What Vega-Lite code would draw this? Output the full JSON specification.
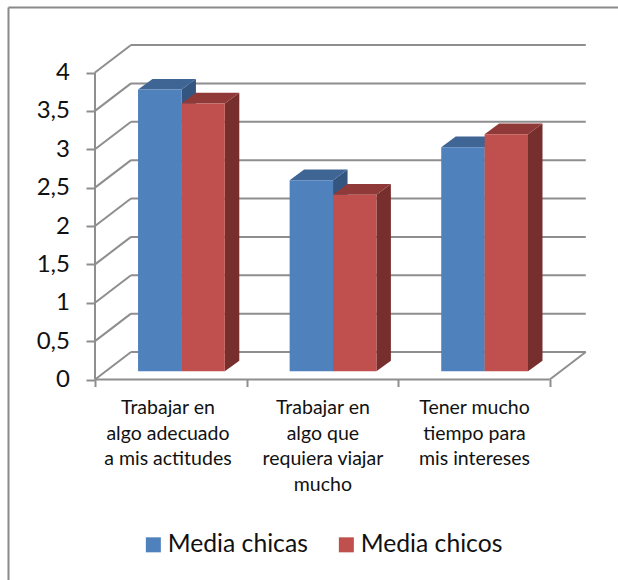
{
  "$schema": "https://vega.github.io/schema/vega-lite/v6.json",
  "width": 618,
  "height": 580,
  "padding": 0,
  "autosize": "none",
  "background": "white",
  "config": {
    "view": {"stroke": null},
    "font": "Lato",
    "axis": {"grid": false, "title": null, "domain": false, "labelColor": "#111111", "tickColor": "#8e8e8e", "tickWidth": 2}
  },
  "datasets": {
    "bars": [
      {"categoria": "Trabajar en algo adecuado a mis actitudes", "serie": "Media chicas", "media": 3.67},
      {"categoria": "Trabajar en algo adecuado a mis actitudes", "serie": "Media chicos", "media": 3.49},
      {"categoria": "Trabajar en algo que requiera viajar mucho", "serie": "Media chicas", "media": 2.49},
      {"categoria": "Trabajar en algo que requiera viajar mucho", "serie": "Media chicos", "media": 2.30},
      {"categoria": "Tener mucho tiempo para mis intereses", "serie": "Media chicas", "media": 2.92},
      {"categoria": "Tener mucho tiempo para mis intereses", "serie": "Media chicos", "media": 3.09}
    ],
    "ticks": [
      {"nivel": 0}, {"nivel": 0.5}, {"nivel": 1}, {"nivel": 1.5}, {"nivel": 2},
      {"nivel": 2.5}, {"nivel": 3}, {"nivel": 3.5}, {"nivel": 4}
    ]
  },
  "layer": [
    {
      "data": {"values": [{}]},
      "mark": {"type": "rule", "color": "#8a8a8a", "strokeWidth": 2},
      "encoding": {
        "x": {"datum": -0.5706, "type": "quantitative", "scale": {"domain": [-0.6266, 3.45], "nice": false, "zero": false},
          "axis": {
            "orient": "bottom", "offset": -200.5, "values": [0, 0.478, 1, 1.5, 2, 2.5, 3], "tickSize": 7, "labelFontSize": 19.5, "labelPadding": 12, "labelLineHeight": 25.7, "labelBaseline": "top", "labelOverlap": false, "labelFlush": false, "labelBound": false,
            "tickOpacity": {"condition": {"test": "datum.value % 1 != 0", "value": 0}, "value": 1},
            "labelExpr": "datum.value == 0.478 ? ['Trabajar en', 'algo adecuado', 'a mis actitudes'] : datum.value == 1.5 ? ['Trabajar en', 'algo que', 'requiera viajar', 'mucho'] : datum.value == 2.5 ? ['Tener mucho', 'tiempo para', 'mis intereses'] : ''"
          }
        },
        "y": {"datum": 4.847, "type": "quantitative", "scale": {"domain": [-2.612, 4.9446], "nice": false, "zero": false},
          "axis": {
            "orient": "left", "offset": -95, "values": [0, 0.5, 1, 1.5, 2, 2.5, 3, 3.5, 4], "tickSize": 9, "labelFontSize": 24, "labelPadding": 16.5, "labelOverlap": false, "labelFlush": false, "labelBound": false,
            "labelExpr": "replace(toString(datum.value), '.', ',')"
          }
        },
        "y2": {"datum": -2.612}
      }
    },
    {
      "data": {"values": [{}]},
      "mark": {"type": "rule", "color": "#8a8a8a", "strokeWidth": 2},
      "encoding": {
        "x": {"datum": -0.5706, "type": "quantitative", "scale": {"domain": [-0.6266, 3.45], "nice": false, "zero": false}},
        "x2": {"datum": 3.45},
        "y": {"datum": 4.847, "type": "quantitative", "scale": {"domain": [-2.612, 4.9446], "nice": false, "zero": false}}
      }
    },
    {
      "data": {"name": "ticks"},
      "transform": [{"calculate": "datum.nivel + 0.358", "as": "yb"}],
      "mark": {"type": "rule", "color": "#8e8e8e", "strokeWidth": 2},
      "encoding": {
        "x": {"datum": 0.2375, "type": "quantitative", "scale": {"domain": [-0.6266, 3.45], "nice": false, "zero": false}},
        "x2": {"datum": 3.2375},
        "y": {"field": "yb", "type": "quantitative", "scale": {"domain": [-2.612, 4.9446], "nice": false, "zero": false}}
      }
    },
    {
      "data": {"name": "ticks"},
      "transform": [{"calculate": "datum.nivel + 0.358", "as": "yb"}],
      "mark": {"type": "rule", "color": "#8e8e8e", "strokeWidth": 2},
      "encoding": {
        "x": {"datum": 0, "type": "quantitative", "scale": {"domain": [-0.6266, 3.45], "nice": false, "zero": false}},
        "x2": {"datum": 0.2375},
        "y": {"field": "nivel", "type": "quantitative", "scale": {"domain": [-2.612, 4.9446], "nice": false, "zero": false}},
        "y2": {"field": "yb"}
      }
    },
    {
      "data": {"values": [{}]},
      "mark": {"type": "rule", "color": "#8e8e8e", "strokeWidth": 2},
      "encoding": {
        "x": {"datum": 0, "type": "quantitative", "scale": {"domain": [-0.6266, 3.45], "nice": false, "zero": false}},
        "y": {"datum": 0, "type": "quantitative", "scale": {"domain": [-2.612, 4.9446], "nice": false, "zero": false}},
        "y2": {"datum": 4}
      }
    },
    {
      "data": {"values": [{}]},
      "mark": {"type": "rule", "color": "#8e8e8e", "strokeWidth": 2},
      "encoding": {
        "x": {"datum": 0, "type": "quantitative", "scale": {"domain": [-0.6266, 3.45], "nice": false, "zero": false}},
        "x2": {"datum": 3},
        "y": {"datum": 0, "type": "quantitative", "scale": {"domain": [-2.612, 4.9446], "nice": false, "zero": false}}
      }
    },
    {
      "data": {"values": [{}]},
      "mark": {"type": "rule", "color": "#8e8e8e", "strokeWidth": 2},
      "encoding": {
        "x": {"datum": 3, "type": "quantitative", "scale": {"domain": [-0.6266, 3.45], "nice": false, "zero": false}},
        "x2": {"datum": 3.2375},
        "y": {"datum": 0, "type": "quantitative", "scale": {"domain": [-2.612, 4.9446], "nice": false, "zero": false}},
        "y2": {"datum": 0.358}
      }
    },
    {
      "data": {"name": "bars"},
      "transform": [
        {"calculate": "indexof(['Trabajar en algo adecuado a mis actitudes', 'Trabajar en algo que requiera viajar mucho', 'Tener mucho tiempo para mis intereses'], datum.categoria) + (datum.serie == 'Media chicas' ? 0.284 : 0.57)", "as": "x0"},
        {"calculate": "[0, 1]", "as": "t"},
        {"flatten": ["t"]},
        {"calculate": "datum.x0 + 0.2863 + datum.t * 0.0956", "as": "xs"},
        {"calculate": "0.107 + datum.t * 0.139", "as": "ybase"},
        {"calculate": "datum.ybase + datum.media", "as": "ytop"},
        {"calculate": "datum.categoria + datum.serie", "as": "barra"}
      ],
      "mark": {"type": "area", "line": false, "opacity": 1},
      "encoding": {
        "detail": {"field": "barra"},
        "x": {"field": "xs", "type": "quantitative", "scale": {"domain": [-0.6266, 3.45], "nice": false, "zero": false}},
        "y": {"field": "ytop", "type": "quantitative", "stack": null, "scale": {"domain": [-2.612, 4.9446], "nice": false, "zero": false}},
        "y2": {"field": "ybase"},
        "fill": {"condition": {"test": "datum.serie == 'Media chicas'", "value": "#34557f"}, "value": "#772f2d"}
      }
    },
    {
      "data": {"name": "bars"},
      "transform": [
        {"calculate": "indexof(['Trabajar en algo adecuado a mis actitudes', 'Trabajar en algo que requiera viajar mucho', 'Tener mucho tiempo para mis intereses'], datum.categoria) + (datum.serie == 'Media chicas' ? 0.284 : 0.57)", "as": "x0"},
        {"calculate": "[0, 1]", "as": "t"},
        {"flatten": ["t"]},
        {"calculate": "datum.x0 + datum.t * 0.0956", "as": "xa"},
        {"calculate": "datum.xa + 0.2863", "as": "xb"},
        {"calculate": "datum.media + 0.107 + datum.t * 0.139", "as": "ytop"},
        {"calculate": "datum.categoria + datum.serie", "as": "barra"}
      ],
      "mark": {"type": "area", "orient": "horizontal", "line": false, "opacity": 1},
      "encoding": {
        "detail": {"field": "barra"},
        "y": {"field": "ytop", "type": "quantitative", "scale": {"domain": [-2.612, 4.9446], "nice": false, "zero": false}},
        "x": {"field": "xa", "type": "quantitative", "stack": null, "scale": {"domain": [-0.6266, 3.45], "nice": false, "zero": false}},
        "x2": {"field": "xb"},
        "fill": {"condition": {"test": "datum.serie == 'Media chicas'", "value": "#3e6594"}, "value": "#8f3a38"}
      }
    },
    {
      "data": {"name": "bars"},
      "transform": [
        {"calculate": "indexof(['Trabajar en algo adecuado a mis actitudes', 'Trabajar en algo que requiera viajar mucho', 'Tener mucho tiempo para mis intereses'], datum.categoria) + (datum.serie == 'Media chicas' ? 0.284 : 0.57)", "as": "x0"},
        {"calculate": "datum.x0 + 0.2863", "as": "x1"},
        {"calculate": "datum.media + 0.107", "as": "ytop"},
        {"calculate": "0.107", "as": "ybase"}
      ],
      "mark": {"type": "rect"},
      "encoding": {
        "x": {"field": "x0", "type": "quantitative", "scale": {"domain": [-0.6266, 3.45], "nice": false, "zero": false}},
        "x2": {"field": "x1"},
        "y": {"field": "ytop", "type": "quantitative", "scale": {"domain": [-2.612, 4.9446], "nice": false, "zero": false}},
        "y2": {"field": "ybase"},
        "color": {
          "field": "serie", "type": "nominal",
          "scale": {"domain": ["Media chicas", "Media chicos"], "range": ["#4f81bd", "#c0504d"]},
          "legend": {"orient": "none", "legendX": 141, "legendY": 532, "title": null, "direction": "horizontal", "columns": 2, "symbolType": "square", "symbolSize": 225, "symbolStrokeWidth": 0, "labelFontSize": 24.7, "labelColor": "#111111", "labelOffset": 2, "columnPadding": 26, "labelLimit": 300}
        }
      }
    }
  ]
}
